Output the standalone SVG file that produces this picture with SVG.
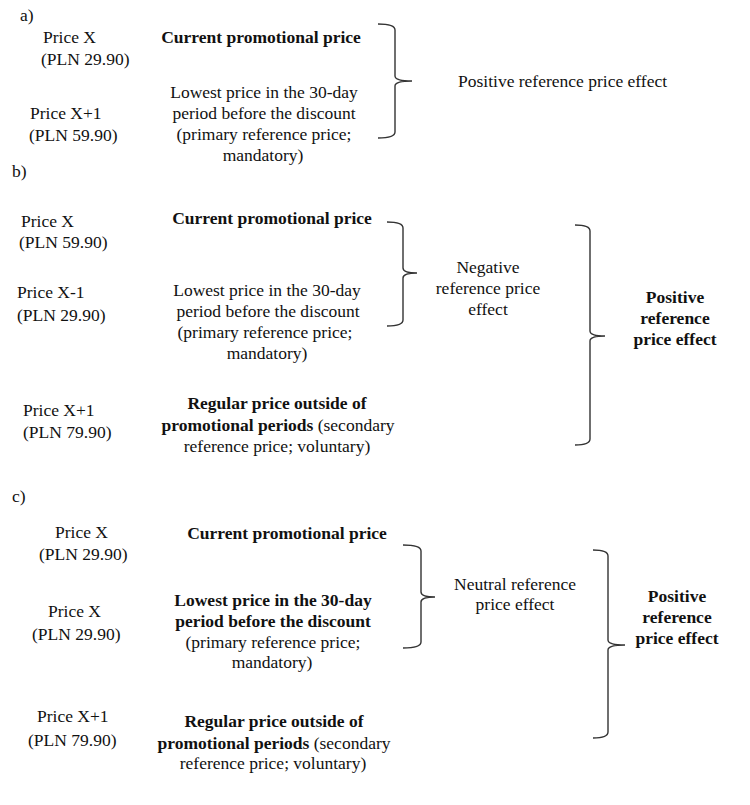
<svg xmlns="http://www.w3.org/2000/svg" width="750" height="805" viewBox="0 0 750 805">
<style>
text{font-family:"Liberation Serif","Times New Roman",serif;font-size:17.5px;fill:#111}
.b{font-weight:bold}
.m{text-anchor:middle}
.br{fill:none;stroke:#333;stroke-width:1.4}
</style>
<rect width="750" height="805" fill="#fff"/>
<g id="labels">
<text x="20" y="21" font-size="16">a)</text>
<text x="12" y="177" font-size="16">b)</text>
<text x="12" y="502" font-size="16">c)</text>
</g>
<g id="a-price-x"><text x="43" y="43">Price X</text><text x="41" y="65">(PLN 29.90)</text></g>
<g id="a-price-x1"><text x="30" y="119">Price X+1</text><text x="29" y="141">(PLN 59.90)</text></g>
<g id="a-current"><text class="b m" x="261" y="43">Current promotional price</text></g>
<g id="a-lowest"><text class="m" x="264" y="98">Lowest price in the 30-day</text><text class="m" x="264" y="119">period before the discount</text><text class="m" x="264" y="140">(primary reference price;</text><text class="m" x="263" y="161">mandatory)</text></g>
<g id="a-effect"><text x="458" y="87">Positive reference price effect</text></g>

<g id="b-price-x"><text x="21" y="227">Price X</text><text x="19" y="248">(PLN 59.90)</text></g>
<g id="b-price-x-1"><text x="17" y="298">Price X-1</text><text x="17" y="321">(PLN 29.90)</text></g>
<g id="b-price-x1"><text x="23" y="416">Price X+1</text><text x="23" y="438">(PLN 79.90)</text></g>
<g id="b-current"><text class="b m" x="272" y="224">Current promotional price</text></g>
<g id="b-lowest"><text class="m" x="267" y="296">Lowest price in the 30-day</text><text class="m" x="268" y="317">period before the discount</text><text class="m" x="265" y="338">(primary reference price;</text><text class="m" x="267" y="359">mandatory)</text></g>
<g id="b-regular"><text class="b m" x="277" y="409">Regular price outside of</text><text class="m" x="278" y="431"><tspan class="b">promotional periods</tspan> (secondary</text><text class="m" x="277" y="452">reference price; voluntary)</text></g>
<g id="b-negative"><text class="m" x="488" y="273">Negative</text><text class="m" x="488" y="294">reference price</text><text class="m" x="488" y="315">effect</text></g>
<g id="b-positive"><text class="b m" x="675" y="303">Positive</text><text class="b m" x="675" y="324">reference</text><text class="b m" x="675" y="345">price effect</text></g>

<g id="c-price-x"><text x="55" y="538">Price X</text><text x="39" y="560">(PLN 29.90)</text></g>
<g id="c-price-x-2"><text x="48" y="617">Price X</text><text x="32" y="640">(PLN 29.90)</text></g>
<g id="c-price-x1"><text x="37" y="722">Price X+1</text><text x="28" y="746">(PLN 79.90)</text></g>
<g id="c-current"><text class="b m" x="287" y="539">Current promotional price</text></g>
<g id="c-lowest"><text class="b m" x="273" y="606">Lowest price in the 30-day</text><text class="b m" x="273" y="627">period before the discount</text><text class="m" x="273" y="648">(primary reference price;</text><text class="m" x="272" y="668">mandatory)</text></g>
<g id="c-regular"><text class="b m" x="274" y="727">Regular price outside of</text><text class="m" x="274" y="749"><tspan class="b">promotional periods</tspan> (secondary</text><text class="m" x="273" y="769">reference price; voluntary)</text></g>
<g id="c-neutral"><text class="m" x="515" y="590">Neutral reference</text><text class="m" x="515" y="610">price effect</text></g>
<g id="c-positive"><text class="b m" x="677" y="602">Positive</text><text class="b m" x="677" y="623">reference</text><text class="b m" x="677" y="644">price effect</text></g>

<g id="connectors">
<path class="br" d="M378 24 Q395 24 395 30 L395 76 Q395 81 412 81 Q395 81 395 86 L395 132 Q395 138 378 138"/>
<path class="br" d="M387 222 Q403 222 403 228 L403 268 Q403 273 417 273 Q403 273 403 278 L403 320 Q403 326 387 326"/>
<path class="br" d="M575 225 Q590 225 590 231 L590 331 Q590 336 605 336 Q590 336 590 341 L590 439 Q590 445 575 445"/>
<path class="br" d="M403 545 Q421 545 421 551 L421 592 Q421 597 435 597 Q421 597 421 602 L421 642 Q421 648 403 648"/>
<path class="br" d="M593 550 Q608 550 608 556 L608 640 Q608 645 625 645 Q608 645 608 650 L608 732 Q608 738 593 738"/>
</g>
</svg>
